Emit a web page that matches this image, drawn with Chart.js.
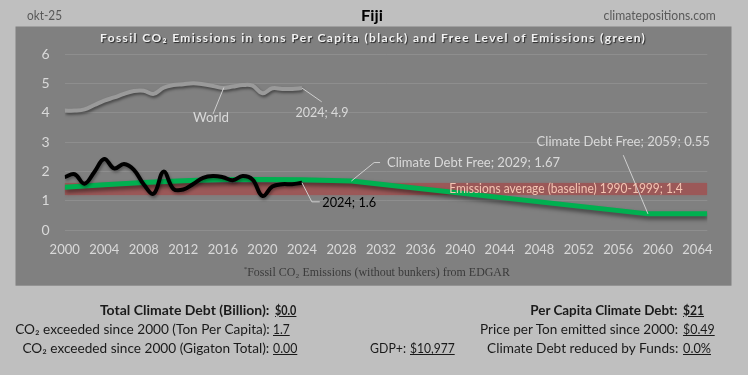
<!DOCTYPE html>
<html><head><meta charset="utf-8">
<script src="https://cdn.jsdelivr.net/npm/chart.js@4.4.1/dist/chart.umd.min.js"></script>
<style>
html,body{margin:0;padding:0;background:#bfbfbf;}
#wrap{position:relative;width:748px;height:375px;overflow:hidden;background:#bfbfbf;font-family:Lato,"Open Sans",sans-serif;}
#c{position:absolute;left:0;top:0;}
.t{position:absolute;white-space:nowrap;line-height:1;font-size:13px;color:#1a1a1a;}
.b{font-weight:bold;}
.u{text-decoration:underline;}
</style></head><body>
<div id="wrap">
<canvas id="c" width="748" height="375"></canvas>
<div class="t" data-x="27.3" data-y="15.7" data-w="35" data-a="l" style="color:#595959">okt-25</div>
<div class="t b" data-x="372" data-y="16" data-w="22" data-a="c" style="font-size:15px;color:#000">Fiji</div>
<div class="t" data-x="716.3" data-y="15.7" data-w="112.3" data-a="r" style="color:#595959">climatepositions.com</div>
<div class="t b" data-x="100" data-y="38.3" data-w="546.3" data-a="l" data-ls="1" style="font-size:12px;color:#f2f2f2;text-shadow:1px 1px 1px rgba(0,0,0,0.7)">Fossil CO₂ Emissions in tons Per Capita (black) and Free Level of Emissions (green)</div>
<div class="t" data-x="376.4" data-y="272" data-w="266.2" data-a="c" style="font-family:'Liberation Serif',serif;font-size:12px;color:#3a3a3a"><sup style="font-size:7px">*</sup>Fossil CO₂ Emissions (without bunkers) from EDGAR</div>

<div class="t b" data-x="269.5" data-y="310.7" data-w="169.5" data-a="r">Total Climate Debt (Billion):</div>
<div class="t b u" data-x="275.3" data-y="310.7" data-w="21.4" data-a="l">$0.0</div>
<div class="t" data-x="269.5" data-y="330" data-w="254.5" data-a="r">CO₂ exceeded since 2000 (Ton Per Capita):</div>
<div class="t u" data-x="273.3" data-y="330" data-w="16.7" data-a="l">1.7</div>
<div class="t" data-x="269.5" data-y="349.3" data-w="246.8" data-a="r">CO₂ exceeded since 2000 (Gigaton Total):</div>
<div class="t u" data-x="272.7" data-y="349.3" data-w="24.3" data-a="l">0.00</div>
<div class="t" data-x="405.7" data-y="349.3" data-w="35.9" data-a="r">GDP+:</div>
<div class="t u" data-x="410" data-y="349.3" data-w="44.7" data-a="l">$10,977</div>
<div class="t b" data-x="678" data-y="310.7" data-w="147.3" data-a="r">Per Capita Climate Debt:</div>
<div class="t b u" data-x="683" data-y="310.7" data-w="21" data-a="l">$21</div>
<div class="t" data-x="678" data-y="330" data-w="198" data-a="r">Price per Ton emitted since 2000:</div>
<div class="t u" data-x="683" data-y="330" data-w="31.7" data-a="l">$0.49</div>
<div class="t" data-x="678" data-y="349.3" data-w="191.3" data-a="r">Climate Debt reduced by Funds:</div>
<div class="t u" data-x="683" data-y="349.3" data-w="28" data-a="l">0.0%</div>
</div>
<script>
// ---- data ----
const fijiYears  = [2000,2001,2002,2003,2004,2005,2006,2007,2008,2009,2010,2011,2012,2013,2014,2015,2016,2017,2018,2019,2020,2021,2022,2023,2024];
const fijiCO2    = [1.80,1.90,1.58,1.98,2.42,2.10,2.25,2.05,1.55,1.24,1.99,1.40,1.38,1.57,1.78,1.84,1.80,1.70,1.84,1.72,1.16,1.48,1.56,1.56,1.61];
const worldCO2   = [4.07,4.07,4.11,4.26,4.41,4.52,4.64,4.74,4.75,4.64,4.85,4.94,4.97,5.00,4.97,4.91,4.84,4.89,4.94,4.92,4.66,4.83,4.81,4.81,4.84];
const freeYears  = [2000,2004,2008,2012,2016,2020,2024,2029,2059,2065];
const freeLevel  = [1.46,1.54,1.62,1.68,1.72,1.72,1.71,1.67,0.55,0.55];
const baseYears  = [2000,2065];
const baseline   = [1.4,1.4];
const yTicks     = [0,1,2,3,4,5,6];
const xTickStart = 2000, xTickStep = 4, xMin = 2000, xMax = 2065;

const pts = (xs, ys) => xs.map((x,i)=>({x:x,y:ys[i]}));

function fitText(ctx, s, x, y, w, align, color, font){
  ctx.save(); ctx.font = font; ctx.fillStyle = color; ctx.textBaseline = 'middle';
  const m = ctx.measureText(s).width; const sx = w / m;
  ctx.translate(x, y); ctx.scale(sx, 1); ctx.textAlign = align; ctx.fillText(s, 0, 0); ctx.restore();
}

const bgPlugin = {
  id:'bg',
  beforeDraw(chart){
    const c = chart.ctx; c.save();
    c.fillStyle = '#bfbfbf'; c.fillRect(0,0,chart.width,chart.height);
    c.fillStyle = '#808080'; c.fillRect(15.5,26.5,716,259.2);
    c.restore();
  }
};
const shadowPlugin = {
  id:'shadow',
  beforeDatasetDraw(chart,args){
    const ds = chart.data.datasets[args.index];
    if(ds.shadow){ const c = chart.ctx; c.save(); c.shadowColor = ds.shadow.color; c.shadowBlur = ds.shadow.blur; c.shadowOffsetX = ds.shadow.x; c.shadowOffsetY = ds.shadow.y; }
  },
  afterDatasetDraw(chart,args){
    const ds = chart.data.datasets[args.index];
    if(ds.shadow) chart.ctx.restore();
  }
};
const annoPlugin = {
  id:'anno',
  afterDatasetsDraw(chart){
    const c = chart.ctx, X = chart.scales.x, Y = chart.scales.y;
    const px = v => X.getPixelForValue(v), py = v => Y.getPixelForValue(v);
    const F = '13px Lato, "Open Sans", sans-serif';
    const L = '#d9d9d9';
    function line(p){ c.save(); c.strokeStyle = '#cfcfcf'; c.lineWidth = 1; c.beginPath(); c.moveTo(p[0][0],p[0][1]); for(let i=1;i<p.length;i++) c.lineTo(p[i][0],p[i][1]); c.stroke(); c.restore(); }
    // World
    line([[px(2016.1),py(4.86)],[px(2015.0),py(3.95)]]);
    fitText(c,'World',px(2014.8),py(3.81),36,'center',L,F);
    // 2024; 4.9
    line([[px(2024),py(worldCO2[24])],[px(2026),py(4.37)]]);
    fitText(c,'2024; 4.9',px(2023.35),py(3.98),53,'left',L,F);
    // 2024; 1.6
    line([[px(2024),py(fijiCO2[24])],[px(2025),py(0.96)],[px(2025.8),py(0.96)]]);
    fitText(c,'2024; 1.6',px(2026.05),py(0.91),54,'left','#000',F);
    // Climate Debt Free 2029
    line([[px(2029),py(1.67)],[px(2031.3),py(2.3)],[px(2031.9),py(2.3)]]);
    fitText(c,'Climate Debt Free; 2029; 1.67',px(2032.6),py(2.3),173,'left',L,F);
    // Climate Debt Free 2059
    line([[px(2059),py(0.55)],[px(2056.5),py(2.55)]]);
    fitText(c,'Climate Debt Free; 2059; 0.55',px(2056.5),py(3.01),173.3,'center',L,F);
    // baseline
    fitText(c,'Emissions average (baseline) 1990-1999; 1.4',px(2038.9),py(1.4),233.4,'left','#f4c4b2',F);
  }
};

function build(){
  new Chart(document.getElementById('c'), {
    type:'line',
    data:{ datasets:[
      { data:pts(fijiYears,fijiCO2), borderColor:'#000', borderWidth:4, tension:0.4, pointRadius:0, order:1,
        shadow:{color:'rgba(0,0,0,0.35)',blur:3,x:1,y:2} },
      { data:pts(fijiYears,worldCO2), borderColor:'#9a9a9a', borderWidth:4, tension:0.4, pointRadius:0, order:2,
        shadow:{color:'rgba(0,0,0,0.45)',blur:3,x:1,y:2} },
      { data:pts(freeYears,freeLevel), borderColor:'#00b050', borderWidth:5, tension:0, pointRadius:0, order:3,
        borderJoinStyle:'round', shadow:{color:'rgba(0,0,0,0.5)',blur:4,x:1,y:3} },
      { data:pts(baseYears,baseline), borderColor:'#9b5858', borderWidth:12, tension:0, pointRadius:0, order:4,
        borderCapStyle:'butt', shadow:{color:'rgba(155,88,88,0.8)',blur:3,x:0,y:0} }
    ]},
    options:{
      responsive:false, animation:false, devicePixelRatio:1,
      layout:{ padding:{ left:0, top:54, right:40.7, bottom:0 } },
      plugins:{ legend:{display:false}, tooltip:{enabled:false}, title:{display:false} },
      scales:{
        x:{ type:'linear', min:xMin, max:xMax,
            afterFit(s){ s.height = 145; },
            afterBuildTicks(s){ const t=[]; for(let v=xTickStart; v<=xMax; v+=xTickStep) t.push({value:v}); s.ticks=t; },
            grid:{ display:false, drawTicks:false }, border:{ display:false },
            ticks:{ autoSkip:false, maxRotation:0, padding:12, color:'#d9d9d9',
                    font:{ family:'Lato', size:13 }, callback:v=>String(v) } },
        y:{ min:0, max:6,
            afterFit(s){ s.width = 64.7; },
            afterBuildTicks(s){ s.ticks = yTicks.map(v=>({value:v})); },
            grid:{ color:'#8e8e8e', lineWidth:1, drawTicks:false }, border:{ display:false },
            ticks:{ padding:15, color:'#d9d9d9', font:{ family:'Lato', size:14 }, callback:v=>String(v) } }
      }
    },
    plugins:[bgPlugin, shadowPlugin, annoPlugin]
  });
}

function place(){
  document.querySelectorAll('.t').forEach(el=>{
    const fs = parseFloat(getComputedStyle(el).fontSize);
    const tw = +el.dataset.w, x = +el.dataset.x, y = +el.dataset.y, a = el.dataset.a || 'l';
    let w = el.getBoundingClientRect().width;
    let s = tw / w;
    if(el.dataset.ls){
      const n = el.textContent.length;
      el.style.letterSpacing = ((tw - w) / n) + 'px';
      w = el.getBoundingClientRect().width; s = tw / w;
    }
    el.style.top = (y - 0.53*fs) + 'px';
    if(a==='l'){ el.style.left = x+'px'; el.style.transformOrigin = 'left center'; }
    else if(a==='r'){ el.style.left = (x-w)+'px'; el.style.transformOrigin = 'right center'; }
    else { el.style.left = (x-w/2)+'px'; el.style.transformOrigin = 'center center'; }
    el.style.transform = 'scaleX('+s+')';
  });
}

Promise.all([document.fonts.load('13px Lato'), document.fonts.load('bold 13px Lato')]).catch(()=>{}).then(()=>{ place(); build(); });
</script>
</body></html>
